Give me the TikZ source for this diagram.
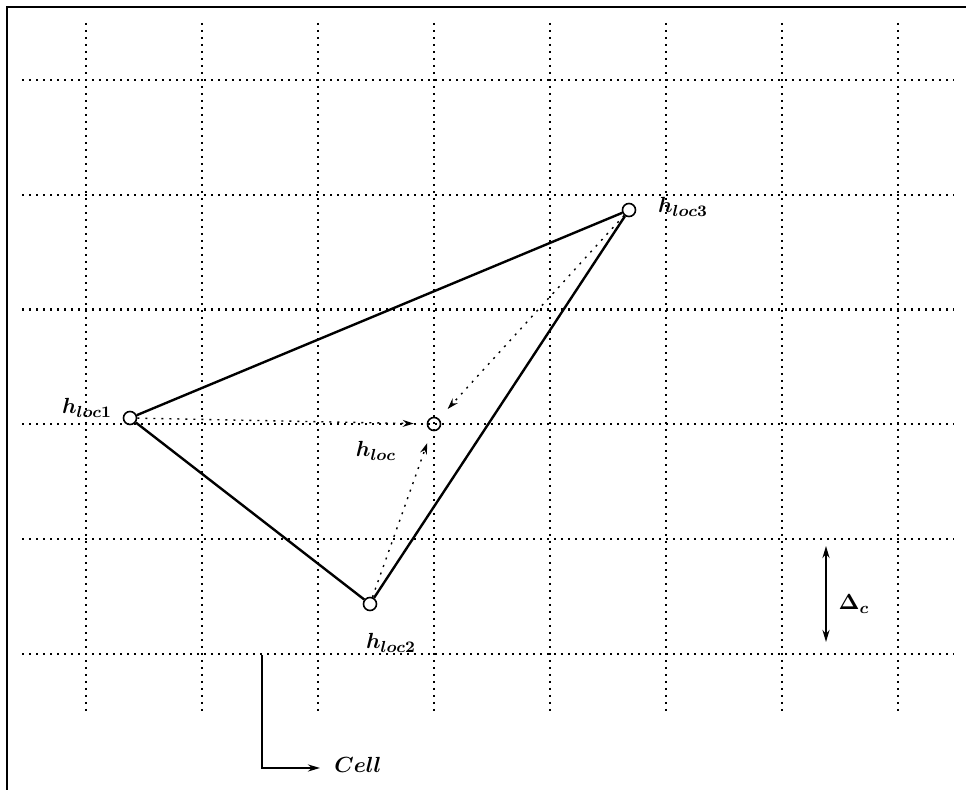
\documentclass[tikz,border=0pt]{standalone}
\usetikzlibrary{arrows.meta}
\begin{document}
\begin{tikzpicture}[x=0.5pt,y=-0.5pt,
  gridline/.style={line width=1.1pt,dash pattern=on 0.9pt off 2.6pt},
  frameline/.style={line width=1.1pt},
  pt/.style={circle,draw,line width=0.8pt,minimum size=6.5pt,inner sep=0pt},
  edge/.style={line width=1.2pt},
  guide/.style={line width=0.7pt,dash pattern=on 1pt off 3pt,-{Stealth[length=5.5pt,width=3.5pt]},shorten >=6.5pt},
  lab/.style={inner sep=0pt,font=\fontsize{11}{13}\selectfont\boldmath},
  dim/.style={line width=1pt}
]
\useasboundingbox (0,0) rectangle (966,790);
% frame (top and left)
\coordinate (fa) at (966,7);
\coordinate (fb) at (7,7);
\coordinate (fc) at (7,790);
\draw[frameline] (fa) -- (fb) -- (fc);
% grid
\foreach \i in {0,...,7}{
  \draw[gridline] ({86+116*\i},23) -- ({86+116*\i},711);
}
\foreach \j in {0,...,5}{
  \draw[gridline] (22,{80+114.8*\j}) -- (954,{80+114.8*\j});
}
% points
\node[pt] (p1) at (130,418) {};
\node[pt] (p2) at (370,604) {};
\node[pt] (p3) at (629,210) {};
\node[pt] (p) at (434,424) {};
% triangle
\draw[edge] (p1) -- (p3);
\draw[edge] (p3) -- (p2);
\draw[edge] (p2) -- (p1);
% guide arrows
\draw[guide] (p1) -- (p);
\draw[guide] (p3) -- (p);
\draw[guide] (p2) -- (p);
% labels
\node[lab] (l1) at (87,408) {$h_{loc1}$};
\node[lab] (l) at (376,451) {$h_{loc}$};
\node[lab] (l3) at (683,207) {$h_{loc3}$};
\node[lab] (l2) at (391,643) {$h_{loc2}$};
% delta c
\coordinate (d1) at (826,546);
\coordinate (d2) at (826,642);
\draw[dim,{Stealth[length=6pt,width=3.5pt]}-{Stealth[length=6pt,width=3.5pt]}] (d1) -- (d2);
\node[lab] (dc) at (854,604) {$\Delta_c$};
% cell
\coordinate (c1) at (262,655);
\coordinate (c2) at (262,768);
\node[lab,anchor=west] (cell) at (334,765) {$Cell$};
\draw[dim,-{Stealth[length=6pt,width=3.5pt]}] (c1) -- (c2) -- (320,768);
\end{tikzpicture}
\end{document}
